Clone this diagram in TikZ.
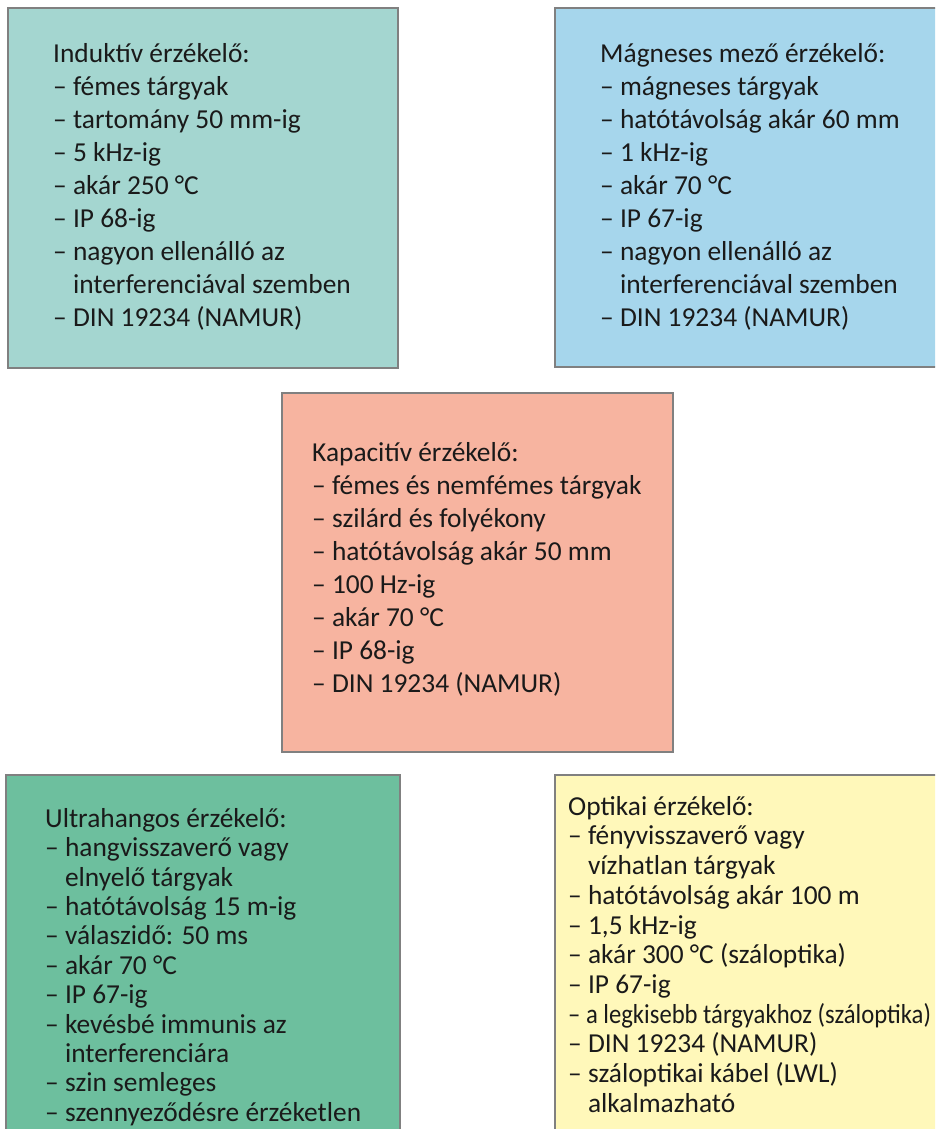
\documentclass[tikz,border=0pt]{standalone}
\usepackage{fontspec}
\usepackage{graphicx}
\setmainfont{Carlito}
\definecolor{induktivColor}{HTML}{A4D6D0}
\definecolor{magnesColor}{HTML}{A6D6EC}
\definecolor{kapacColor}{HTML}{F7B4A0}
\definecolor{ultraColor}{HTML}{6DBF9E}
\definecolor{optikaColor}{HTML}{FFF8BA}
\definecolor{frameColor}{HTML}{808080}
\definecolor{inkColor}{HTML}{1A1A1A}
\newcommand{\ind}{\phantom{– }}

\begin{document}
\begin{tikzpicture}[x = 1pt, y = -1pt]
	\tikzstyle{boxStyle} = [draw = frameColor, line width = 2pt, inner sep = 0pt]
	\tikzstyle{textStyle} = [anchor = north west, inner sep = 0pt, align = left, text = inkColor, font = \fontsize{27.4}{33}\selectfont]
	\clip (0, 0) rectangle (935, 1129);
	\node[boxStyle, fill = induktivColor, minimum width = 390pt, minimum height = 360pt] (induktiv) at (203, 188) {};
	\node[boxStyle, fill = magnesColor, minimum width = 390pt, minimum height = 359pt] (magneses) at (750, 187.5) {};
	\node[boxStyle, fill = kapacColor, minimum width = 391pt, minimum height = 359pt] (kapacitiv) at (477.5, 572.5) {};
	\node[boxStyle, fill = ultraColor, minimum width = 394pt, minimum height = 365pt] (ultrahang) at (203, 957.5) {};
	\node[boxStyle, fill = optikaColor, minimum width = 390pt, minimum height = 365pt] (optikai) at (750, 957.5) {};
	\node[textStyle] (induktivText) at (53, 43) {Induktív érzékelő:\\
		– fémes tárgyak\\
		– tartomány 50 mm-ig\\
		– 5 kHz-ig\\
		– akár 250 °C\\
		– IP 68-ig\\
		– nagyon ellenálló az\\
		\ind interferenciával szemben\\
		– DIN 19234 (NAMUR)};
	\node[textStyle] (magnesesText) at (600, 43) {Mágneses mező érzékelő:\\
		– mágneses tárgyak\\
		– hatótávolság akár 60 mm\\
		– 1 kHz-ig\\
		– akár 70 °C\\
		– IP 67-ig\\
		– nagyon ellenálló az\\
		\ind interferenciával szemben\\
		– DIN 19234 (NAMUR)};
	\node[textStyle] (kapacitivText) at (312, 442) {Kapacitív érzékelő:\\
		– fémes és nemfémes tárgyak\\
		– szilárd és folyékony\\
		– hatótávolság akár 50 mm\\
		– 100 Hz-ig\\
		– akár 70 °C\\
		– IP 68-ig\\
		– DIN 19234 (NAMUR)};
	\node[textStyle, font = \fontsize{27.4}{29.4}\selectfont] (ultrahangText) at (45, 808) {Ultrahangos érzékelő:\\
		– hangvisszaverő vagy\\
		\ind elnyelő tárgyak\\
		– hatótávolság 15 m-ig\\
		– válaszidő: 50 ms\\
		– akár 70 °C\\
		– IP 67-ig\\
		– kevésbé immunis az\\
		\ind interferenciára\\
		– szin semleges\\
		– szennyeződésre érzéketlen};
	\node[textStyle, font = \fontsize{27.4}{29.7}\selectfont] (optikaiText) at (568, 796) {Optikai érzékelő:\\
		– fényvisszaverő vagy\\
		\ind vízhatlan tárgyak\\
		– hatótávolság akár 100 m\\
		– 1,5 kHz-ig\\
		– akár 300 °C (száloptika)\\
		– IP 67-ig\\
		\scalebox{0.9}[1]{– a legkisebb tárgyakhoz (száloptika)}\\
		– DIN 19234 (NAMUR)\\
		– száloptikai kábel (LWL)\\
		\ind alkalmazható};
\end{tikzpicture}
\end{document}
